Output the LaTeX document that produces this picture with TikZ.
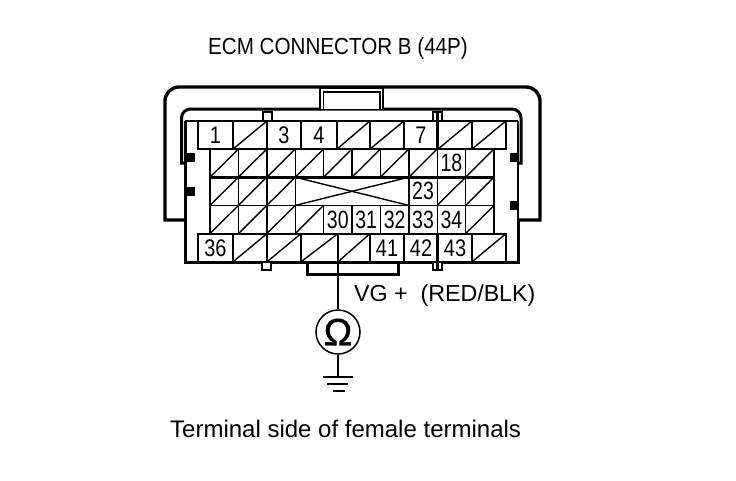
\documentclass[tikz,border=0pt]{standalone}
\usepackage{fontspec}
\setmainfont{Liberation Sans}
\newfontfamily\titlefont[FakeStretch=0.885]{Liberation Sans}
\newfontfamily\widefont[FakeStretch=0.83]{Liberation Sans}
\newfontfamily\narrowfont[FakeStretch=0.78]{Liberation Sans}
\newfontfamily\ohmfont[FakeBold=1]{Liberation Sans}
\usepackage{tikz}

\tikzset{
  thin line/.style={line width=1.4pt},
  wall/.style={line width=3pt},
  cellbox/.style={draw,thin line,outer sep=0pt,inner sep=0pt,minimum height=28.2,text height=17,text depth=0},
  widecell/.style={cellbox,font=\widefont\fontsize{24}{24}\selectfont},
  narrowcell/.style={cellbox,minimum width=28.4,font=\narrowfont\fontsize{25}{25}\selectfont},
  tab/.style={draw,line width=1.8pt,fill=white},
  caption/.style={inner sep=0pt,font=\fontsize{23.2}{24}\selectfont}
}

\begin{document}
\begin{tikzpicture}[x=1pt,y=-1pt]
\useasboundingbox (0,0) rectangle (736,480);

% shell
\draw[line width=3.4pt] (185,220)--(165,220)[rounded corners=14]--(165,87)--(540,87)[sharp corners]--(540,220)--(518,220);
\draw[wall] (185,163)--(181.5,163)[rounded corners=9]--(181.5,109)--(521,109)[sharp corners]--(521,163)--(518,163);
\draw[line width=1.4pt,fill=white] (320,109)--(320,88)--(383,88)--(383,109);
\draw[line width=1.4pt] (323.5,109)--(323.5,92)--(380,92)--(380,109);
\draw[wall] (518,220)--(518,262)--(185,262)--(185,121);
\draw[line width=1.6pt] (518,220)--(518,121);
\draw[line width=2pt] (185,121)--(518,121);

% latches
\fill (186,153) rectangle (195,162);
\fill (186,187) rectangle (195,196);
\fill (510,153) rectangle (518,162);
\fill (510,201) rectangle (518,210);
\draw[tab] (263,112) rectangle (272,121);
\draw[tab] (433,112) rectangle (442,121);
\draw[tab] (262,262) rectangle (271,270);
\draw[tab] (433,262) rectangle (442,270);
\draw[wall] (307,262)--(307,274)--(398,274)--(398,262);

% top row
\foreach \i/\x/\w/\t in {0/215.5/35/1,2/284/34/3,3/319/36/4,6/421/34/7}
  \node[widecell,minimum width=\w] (a\i) at (\x,135) {\t};
\foreach \i/\x/\w in {1/250/34,4/353.5/33,5/387/34,7/455/34,8/489/34} {
  \node[widecell,minimum width=\w] (a\i) at (\x,135) {};
  \draw[thin line] (a\i.south west)--(a\i.north east);
}
% second row
\node[narrowcell] (b8) at ({224.2+28.4*8},163.1) {18};
\foreach \i in {0,...,7,9} {
  \node[narrowcell] (b\i) at ({224.2+28.4*\i},163.1) {};
  \draw[thin line] (b\i.south west)--(b\i.north east);
}
% third row
\node[narrowcell] (c7) at ({224.2+28.4*7},191.3) {23};
\foreach \i in {0,1,2,8,9} {
  \node[narrowcell] (c\i) at ({224.2+28.4*\i},191.3) {};
  \draw[thin line] (c\i.south west)--(c\i.north east);
}
\node[cellbox,minimum width=113.6] (cx) at (352,191.3) {};
\draw[thin line] (cx.south west)--(cx.north east);
\draw[thin line] (cx.north west)--(cx.south east);
% fourth row
\foreach \i/\t in {4/30,5/31,6/32,7/33,8/34}
  \node[narrowcell] (d\i) at ({224.2+28.4*\i},219.5) {\t};
\foreach \i in {0,1,2,3,9} {
  \node[narrowcell] (d\i) at ({224.2+28.4*\i},219.5) {};
  \draw[thin line] (d\i.south west)--(d\i.north east);
}
% bottom row
\foreach \i/\x/\w/\t in {0/215.5/35/36,5/387/34/41,6/421/34/42,7/455/34/43}
  \node[widecell,minimum width=\w] (e\i) at (\x,247.7) {\t};
\foreach \i/\x/\w in {1/250/34,2/284/34,3/319.5/37,4/354/32,8/489/34} {
  \node[widecell,minimum width=\w] (e\i) at (\x,247.7) {};
  \draw[thin line] (e\i.south west)--(e\i.north east);
}
\draw[line width=2.6pt] (b0.south west)--(b9.south east);
\draw[line width=1.8pt] (e0.north west)--(e8.north east);
\draw[line width=2.2pt] (437.5,112)--(437.5,149);
\draw[line width=2.2pt] (437.5,234)--(437.5,270);

% meter and ground
\node[draw,circle,line width=1.5pt,minimum size=44,inner sep=0pt,font=\ohmfont\fontsize{38}{38}\selectfont] (meter) at (338,332) {Ω};
\coordinate (gnd) at (338,377);
\draw[line width=2pt] (e4.north west)--(e4.south west);
\draw[thin line] (e4.south west)--(meter.north);
\draw[thin line] (meter.south)--(gnd);
\draw[line width=1.8pt] (322.5,377)--(352.5,377);
\draw[line width=1.8pt] (327,384)--(348,384);
\draw[line width=1.8pt] (333,391)--(345,391);

% texts
\node[caption,font=\titlefont\fontsize{23.3}{24}\selectfont] (title) at (338,48) {ECM CONNECTOR B (44P)};
\node[caption,anchor=west] (vg) at (354,295) {VG +\ \ (RED/BLK)};
\node[caption,anchor=west,font=\fontsize{24}{25}\selectfont] (side) at (170,429) {Terminal side of female terminals};
\end{tikzpicture}
\end{document}
